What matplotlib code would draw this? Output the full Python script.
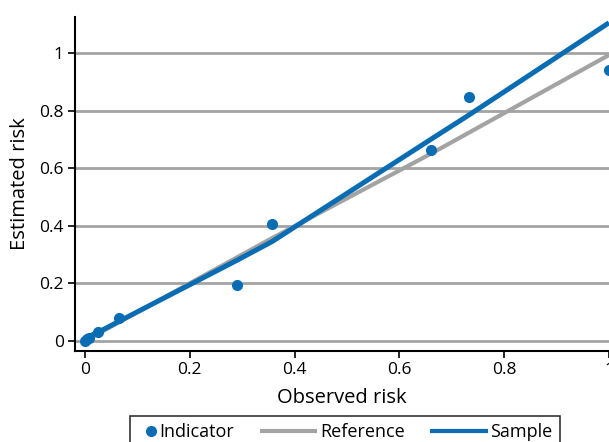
import matplotlib
matplotlib.use("Agg")
import matplotlib.pyplot as plt
from matplotlib.lines import Line2D
from matplotlib.legend_handler import HandlerBase

plt.rcParams['font.family'] = ['Open Sans', 'DejaVu Sans']

# Data
ind_x = [0.0, 0.004, 0.008, 0.025, 0.065, 0.29, 0.357, 0.66, 0.733, 1.0]
ind_y = [0.0, 0.005, 0.01, 0.03, 0.078, 0.195, 0.405, 0.662, 0.848, 0.94]
ref_x = [0.0, 0.357, 0.66, 1.0]
ref_y = [0.0, 0.357, 0.65, 0.993]
sam_x = [0.0, 0.025, 0.065, 0.29, 0.357, 0.66, 0.733, 1.0]
sam_y = [0.01, 0.03, 0.068, 0.28, 0.345, 0.70, 0.785, 1.105]
xticks = [0, 0.2, 0.4, 0.6, 0.8, 1]
yticks = [0, 0.2, 0.4, 0.6, 0.8, 1]
tick_labels = ['0', '0.2', '0.4', '0.6', '0.8', '1']
legend_labels = ['Indicator', 'Reference', 'Sample']

BLUE = '#0a6db4'
GRAY = '#a3a3a3'
DPI = 100

fig = plt.figure(figsize=(6.09, 4.42), dpi=DPI)
ax = fig.add_axes([75/609, 91/442, (609-75)/609, (351-17)/442])
ax.set_xlim(-0.019, 1.0)
ax.set_ylim(-0.035, 1.125)

for y in yticks:
    ax.axhline(y, color=GRAY, lw=2, zorder=1)

ax.plot(ref_x, ref_y, color=GRAY, lw=3, zorder=2, solid_capstyle='butt')
ax.plot(sam_x, sam_y, color=BLUE, lw=3.6, zorder=3, solid_capstyle='butt')
ax.plot(ind_x, ind_y, 'o', color=BLUE, ms=7, zorder=4, clip_on=False)

ax.set_xticks(xticks)
ax.set_xticklabels(tick_labels)
ax.set_yticks(yticks)
ax.set_yticklabels(tick_labels)
ax.tick_params(axis='both', labelsize=12.5, length=5, width=1.2, color='black',
               direction='out', pad=3)
ax.spines['top'].set_visible(False)
ax.spines['right'].set_visible(False)
ax.spines['left'].set_linewidth(1.5)
ax.spines['bottom'].set_linewidth(1.5)

ax.set_xlabel('Observed risk', fontsize=14.5, labelpad=7)
ax.set_ylabel('Estimated risk', fontsize=14.5, labelpad=7)

LEG_FS = 13
FS_PX = LEG_FS * DPI / 72.0
PAD_PX = 7


class RightDot(HandlerBase):
    def create_artists(self, legend, orig, xdescent, ydescent, width, height, fontsize, trans):
        a = Line2D([width - xdescent - 5 * 72 / DPI], [height / 2 - ydescent],
                   marker='o', ms=7, color=BLUE, ls='none')
        a.set_transform(trans)
        return [a]


class LongLine(HandlerBase):
    def __init__(self, color, length_px):
        super().__init__()
        self.color = color
        self.length = length_px * 72 / DPI

    def create_artists(self, legend, orig, xdescent, ydescent, width, height, fontsize, trans):
        x1 = width - xdescent
        a = Line2D([x1 - self.length, x1], [height / 2 - ydescent] * 2,
                   color=self.color, lw=3, solid_capstyle='butt')
        a.set_transform(trans)
        return [a]


h_dot = Line2D([], [], marker='o', color=BLUE, ls='none')
h_ref = Line2D([], [], color=GRAY)
h_sam = Line2D([], [], color=BLUE)

leg = fig.legend([h_dot, h_ref, h_sam], legend_labels, ncol=3,
                 loc='upper left', bbox_to_anchor=(130/609, 1 - 416/442),
                 borderaxespad=0,
                 handler_map={h_dot: RightDot(), h_ref: LongLine(GRAY, 57),
                              h_sam: LongLine(BLUE, 58)},
                 fontsize=LEG_FS, frameon=True, fancybox=False, edgecolor='black',
                 handlelength=19 / FS_PX, handletextpad=3 / FS_PX,
                 columnspacing=64 / FS_PX, borderpad=PAD_PX / FS_PX)
leg.get_frame().set_linewidth(1.2)

fig.savefig('out.png', dpi=DPI)
